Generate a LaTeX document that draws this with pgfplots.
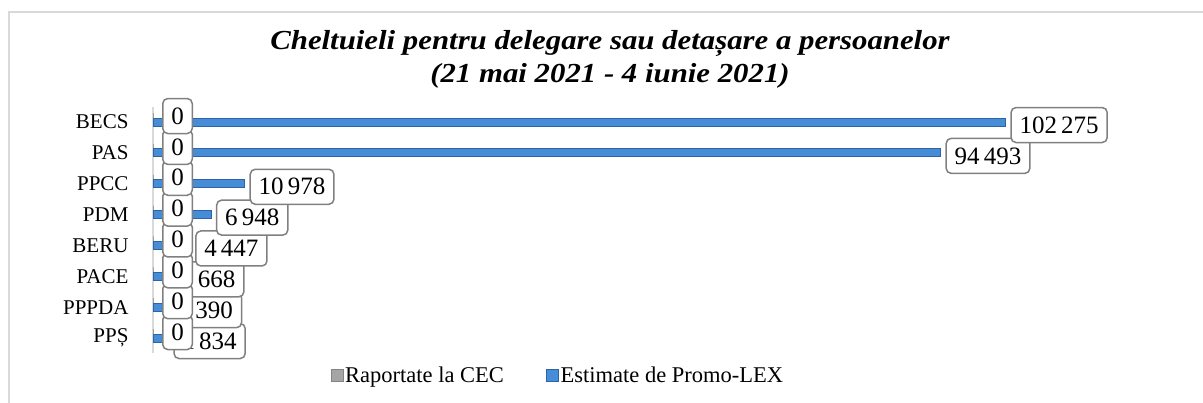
\documentclass[border=0pt]{standalone}
\usepackage{fontspec}
\setmainfont{Liberation Serif}
\newfontfamily\titlefont{Liberation Serif}[FakeStretch=1.12]
\usepackage{pgfplots}
\usepackage{pgfplotstable}
\pgfplotsset{compat=1.18}
\definecolor{barblue}{RGB}{70,140,214}
\definecolor{barblueedge}{RGB}{45,100,165}
\definecolor{bargray}{RGB}{165,165,165}
\definecolor{boxgray}{RGB}{128,128,128}
\definecolor{framegray}{RGB}{217,217,217}
\tikzset{label box/.style={draw=boxgray, line width=1.5pt, rounded corners=5pt, fill=white,
    font=\fontsize{25}{27}\selectfont, inner xsep=8.5pt, minimum height=35pt}}

\pgfplotstableread{
y val lab
7 1834 1\,834
6 1390 1\,390
5 1668 1\,668
4 4447 4\,447
3 6948 6\,948
2 10978 10\,978
1 94493 94\,493
0 102275 102\,275
}\promolex

\pgfplotstableread{
y val lab
7 0 0
6 0 0
5 0 0
4 0 0
3 0 0
2 0 0
1 0 0
0 0 0
}\cec

\begin{document}
\begin{tikzpicture}
\path[use as bounding box] (0pt,0pt) rectangle (1203pt,403pt);
\draw[framegray, line width=2pt] (9pt,-5pt) -- (9pt,391pt) -- (1210pt,391pt);
\node[font=\titlefont\fontsize{27.5}{33}\selectfont\bfseries\itshape, align=center] at (610pt,344pt)
  {Cheltuieli pentru delegare sau detașare a persoanelor\\(21 mai 2021 - 4 iunie 2021)};

\begin{axis}[
  at={(153pt,49.5pt)}, anchor=south west,
  scale only axis, width=1000pt, height=246.9pt,
  xbar,
  xmin=0, xmax=120000,
  ymin=-0.5, ymax=7.5, y dir=reverse,
  ytick={0,...,7},
  yticklabels={BECS,PAS,PPCC,PDM,BERU,PACE,PPPDA,PPȘ},
  axis x line=none,
  axis y line*=left,
  y axis line style={framegray, line width=1.5pt},
  major tick length=0pt,
  yticklabel style={font=\fontsize{21}{24}\selectfont, xshift=-21pt},
  legend style={draw=none, at={(axis description cs:0.405,-0.087)}, anchor=center,
    legend columns=2, font=\fontsize{22.5}{24}\selectfont,
    /tikz/every even column/.append style={column sep=40pt}},
  legend image code/.code={\fill[#1] (0pt,-6pt) rectangle (12pt,6pt);},
]
\addplot[xbar, bar width=6pt, bar shift=6pt, fill=bargray, draw=bargray!80!black]
  table[x=val, y=y] {\cec};
\addlegendentry{Raportate la CEC}
\addplot[xbar, bar width=8pt, bar shift=0pt, fill=barblue, draw=barblueedge, line width=0.8pt,
  point meta=explicit symbolic,
  nodes near coords, nodes near coords style={label box, anchor=west, xshift=5pt, yshift=-3pt}]
  table[x=val, y=y, meta=lab] {\promolex};
\addlegendentry{Estimate de Promo-LEX}
\addplot[xbar, bar width=6pt, bar shift=6pt, draw=none, fill=none, forget plot,
  point meta=explicit symbolic,
  nodes near coords, nodes near coords style={label box, anchor=west, xshift=9pt, yshift=0pt}]
  table[x=val, y=y, meta=lab] {\cec};
\end{axis}
\end{tikzpicture}
\end{document}
